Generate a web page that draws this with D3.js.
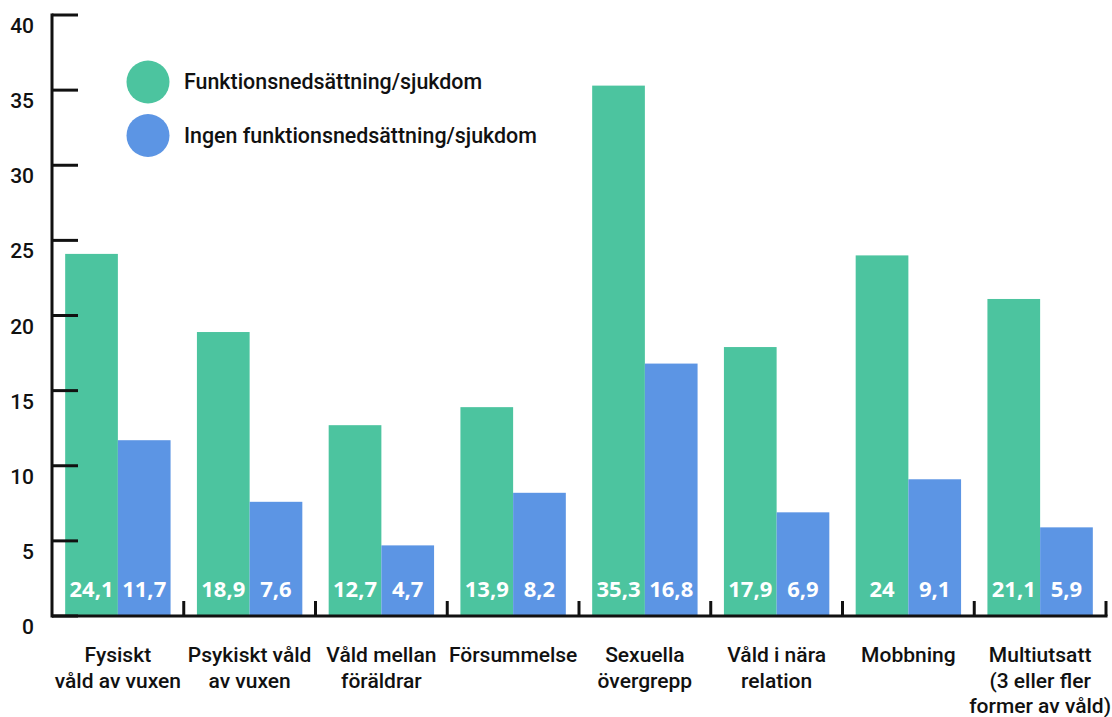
<!DOCTYPE html>
<html>
<head>
<meta charset="utf-8">
<script src="https://cdn.jsdelivr.net/npm/d3@7"></script>
<style>
  body { margin: 0; background: #fff; }
  svg { display: block; }
</style>
</head>
<body>
<svg id="chart"></svg>
<script>
// data
const categories = [
    ['Fysiskt', 'våld av vuxen'],
    ['Psykiskt våld', 'av vuxen'],
    ['Våld mellan', 'föräldrar'],
    ['Försummelse'],
    ['Sexuella', 'övergrepp'],
    ['Våld i nära', 'relation'],
    ['Mobbning'],
    ['Multiutsatt', '(3 eller fler', 'former av våld)']
]
const withDisability = [24.1, 18.9, 12.7, 13.9, 35.3, 17.9, 24, 21.1]
const withoutDisability = [11.7, 7.6, 4.7, 8.2, 16.8, 6.9, 9.1, 5.9]
const seriesNames = ['Funktionsnedsättning/sjukdom', 'Ingen funktionsnedsättning/sjukdom']
const yTicks = [0, 5, 10, 15, 20, 25, 30, 35, 40]

const svgWidth = 1112
const svgHeight = 717
const plotLeft = 52, plotRight = 1106, plotTop = 15, plotBottom = 616
const green = '#4cc49f'
const blue = '#5c95e4'

let svg = d3.select('#chart')
    .attr('width', svgWidth)
    .attr('height', svgHeight)

let x = d3.scaleBand()
    .domain(d3.range(categories.length))
    .range([plotLeft, plotRight])
    .paddingInner(0.2)
    .paddingOuter(0.1)

let y = d3.scaleLinear()
    .domain([0, 40])
    .range([plotBottom, plotTop])

let half = x.bandwidth() / 2

// bars
let groups = svg.selectAll('.group')
    .data(categories)
    .enter()
    .append('g')
    .attr('class', 'group')

groups.append('rect')
    .attr('x', (d, i) => x(i))
    .attr('y', (d, i) => y(withDisability[i]))
    .attr('width', half)
    .attr('height', (d, i) => plotBottom - y(withDisability[i]))
    .attr('fill', green)

groups.append('rect')
    .attr('x', (d, i) => x(i) + half)
    .attr('y', (d, i) => y(withoutDisability[i]))
    .attr('width', half)
    .attr('height', (d, i) => plotBottom - y(withoutDisability[i]))
    .attr('fill', blue)

const fmt = v => String(v).replace('.', ',')

groups.append('text')
    .attr('x', (d, i) => x(i) + half / 2)
    .attr('y', plotBottom - 19)
    .attr('text-anchor', 'middle')
    .attr('fill', 'white')
    .style('font', 'bold 22px "Open Sans", sans-serif')
    .text((d, i) => fmt(withDisability[i]))

groups.append('text')
    .attr('x', (d, i) => x(i) + half * 1.5)
    .attr('y', plotBottom - 19)
    .attr('text-anchor', 'middle')
    .attr('fill', 'white')
    .style('font', 'bold 22px "Open Sans", sans-serif')
    .text((d, i) => fmt(withoutDisability[i]))

// y axis
svg.append('line')
    .attr('x1', plotLeft).attr('x2', plotLeft)
    .attr('y1', plotTop - 1.5).attr('y2', plotBottom + 1.5)
    .attr('stroke', '#111').attr('stroke-width', 3)

svg.selectAll('.ytick')
    .data(yTicks)
    .enter()
    .append('line')
    .attr('x1', plotLeft).attr('x2', plotLeft + 26)
    .attr('y1', d => y(d)).attr('y2', d => y(d))
    .attr('stroke', '#111').attr('stroke-width', 3)

svg.selectAll('.ylabel')
    .data(yTicks)
    .enter()
    .append('text')
    .attr('x', 34)
    .attr('y', d => y(d) + 18)
    .attr('text-anchor', 'end')
    .attr('fill', '#111')
    .style('font', '500 21px Roboto, sans-serif')
    .text(d => d)

// x axis
svg.append('line')
    .attr('x1', plotLeft).attr('x2', plotRight + 1.5)
    .attr('y1', plotBottom).attr('y2', plotBottom)
    .attr('stroke', '#111').attr('stroke-width', 3)

let step = x.step()
svg.selectAll('.xtick')
    .data(categories)
    .enter()
    .append('line')
    .attr('x1', (d, i) => x(i) + x.bandwidth() + step * 0.1)
    .attr('x2', (d, i) => x(i) + x.bandwidth() + step * 0.1)
    .attr('y1', plotBottom).attr('y2', plotBottom - 15)
    .attr('stroke', '#111').attr('stroke-width', 3)

let labels = svg.selectAll('.xlabel')
    .data(categories)
    .enter()
    .append('text')
    .attr('text-anchor', 'middle')
    .attr('fill', '#111')
    .style('font', '500 21px Roboto, sans-serif')

labels.selectAll('tspan')
    .data((d, i) => d.map(line => ({ line: line, i: i })))
    .enter()
    .append('tspan')
    .attr('x', d => x(d.i) + x.bandwidth() / 2)
    .attr('y', (d, j) => 662 + j * 25.5)
    .text(d => d.line)

// legend
let legend = svg.selectAll('.legend')
    .data(seriesNames)
    .enter()
    .append('g')
    .attr('transform', (d, i) => 'translate(148,' + (82 + i * 53.5) + ')')

legend.append('circle')
    .attr('r', 21.5)
    .attr('fill', (d, i) => i == 0 ? green : blue)

legend.append('text')
    .attr('x', 36)
    .attr('y', 7)
    .attr('fill', '#111')
    .style('font', '500 21.4px Roboto, sans-serif')
    .text(d => d)
</script>
</body>
</html>
